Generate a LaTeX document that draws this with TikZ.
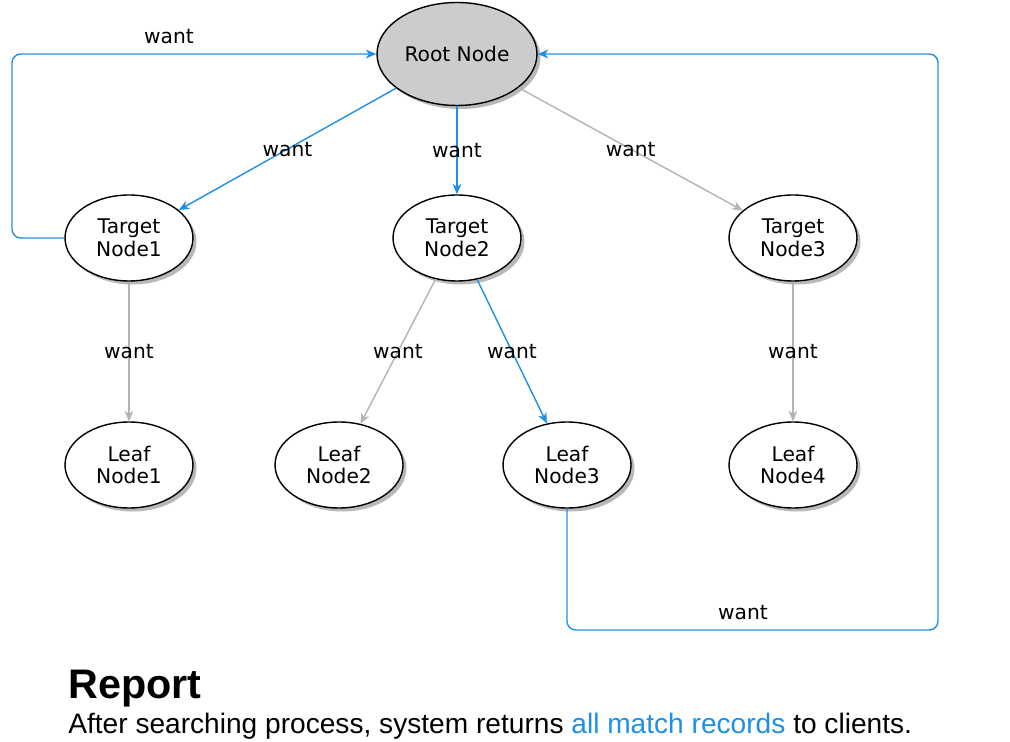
\documentclass[tikz,border=0pt]{standalone}
\usepackage{fontspec}
\setmainfont{DejaVu Sans}
\newfontfamily\reportfont{Liberation Sans}
\usetikzlibrary{arrows.meta,shapes.geometric,shadows}
\definecolor{wantblue}{RGB}{30,144,229}
\definecolor{wantgray}{RGB}{179,179,179}
\definecolor{rootgray}{RGB}{204,204,204}

\begin{document}
\begin{tikzpicture}[x=0.02cm,y=-0.02cm]
\tikzset{noeud/.style={draw, ellipse, line width=0.8pt, fill=white, inner sep=0pt,
    minimum width=2.56cm, minimum height=1.72cm, align=center,
    font=\fontsize{11.5}{13}\selectfont,
    drop shadow={shadow xshift=2pt, shadow yshift=-2pt, fill=black, opacity=0.28}},
  racine/.style={noeud, fill=rootgray, minimum width=3.2cm, minimum height=2.06cm},
  fleche/.style={line width=0.8pt, -{Stealth[length=6pt,width=5pt,inset=1.8pt]}},
  bleu/.style={fleche, draw=wantblue},
  gris/.style={fleche, draw=wantgray},
  etiq/.style={font=\fontsize{11.5}{13}\selectfont, text=black, inner sep=1pt}}
\useasboundingbox (0,0) rectangle (1010,742);
% nodes
\node[racine] (R) at (457,54) {Root Node};
\node[noeud] (T1) at (129,238) {Target\\Node1};
\node[noeud] (T2) at (457,238) {Target\\Node2};
\node[noeud] (T3) at (793,238) {Target\\Node3};
\node[noeud] (L1) at (129,465) {Leaf\\Node1};
\node[noeud] (L2) at (339,465) {Leaf\\Node2};
\node[noeud] (L3) at (567,465) {Leaf\\Node3};
\node[noeud] (L4) at (793,465) {Leaf\\Node4};
% edges
\draw[bleu] (R) -- node[etiq, midway] {want} (T1);
\draw[bleu] (R) -- node[etiq, midway] {want} (T2);
\draw[gris] (R) -- node[etiq, midway] {want} (T3);
\draw[gris] (T1) -- node[etiq, midway] {want} (L1);
\draw[gris] (T2) -- node[etiq, midway] {want} (L2);
\draw[bleu] (T2) -- node[etiq, midway] {want} (L3);
\draw[gris] (T3) -- node[etiq, midway] {want} (L4);
% loops back to the root
\coordinate (C1) at (12,238);
\coordinate (C2) at (938,630);
\draw[bleu, rounded corners=5pt] (T1.west) -- (C1) |- (R.west);
\node[etiq] (W1) at (169,37) {want};
\draw[bleu, rounded corners=5pt] (L3.south) |- (C2) |- (R.east);
\node[etiq] (W2) at (743,613) {want};
% report
\node[anchor=base west, inner sep=0pt, font=\reportfont\fontsize{23.5}{27}\bfseries\selectfont] (rep) at (68,698) {Report};
\node[anchor=base west, inner sep=0pt, font=\reportfont\fontsize{16}{19}\selectfont] (desc) at (68,733)
  {After searching process, system returns \textcolor{wantblue}{all match records} to clients.};
\end{tikzpicture}
\end{document}
